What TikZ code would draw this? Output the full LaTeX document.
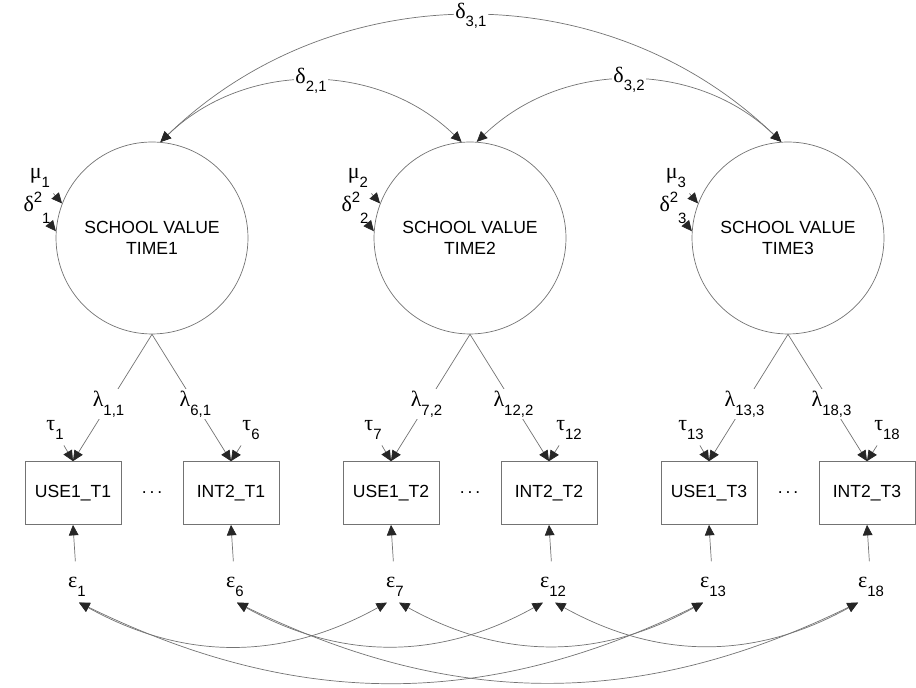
\documentclass[tikz,border=0pt]{standalone}
\usepackage{fontspec}
\setmainfont{Liberation Sans}
\newfontfamily\grk{Liberation Serif}
\usetikzlibrary{arrows.meta}
\newcommand{\grsub}[2]{{\grk\fontsize{12.5}{14}\selectfont #1}\raisebox{-0.9ex}{\fontsize{8.5}{10}\selectfont #2}}
\newcommand{\grvar}[1]{{\grk\fontsize{12.5}{14}\selectfont δ}\raisebox{0.9ex}{\fontsize{8.5}{10}\selectfont 2}\raisebox{-1.3ex}{\fontsize{8.5}{10}\selectfont #1}}

\begin{document}
\begin{tikzpicture}[x=0.02cm, y=-0.02cm,
	every node/.style={font=\fontsize{10}{12}\selectfont},
	>={Triangle[length=6pt, width=5.5pt, color=black!85]},
	conn/.style={draw=black!55, line width=0.4pt},
	latent/.style={circle, draw=black!55, line width=0.4pt, minimum size=3.84cm, inner sep=0pt, align=center},
	obs/.style={rectangle, draw=black!55, line width=0.4pt, minimum width=1.92cm, minimum height=1.26cm},
	lab/.style={fill=white, inner sep=1pt},
	load/.style={conn, ->},
	cov/.style={conn, <->}]
	\useasboundingbox (0,0) rectangle (916,688);
	\foreach \t/\cx/\a/\b in {1/152/1/6, 2/470/7/12, 3/788/13/18} {
		\node[latent] (c\t) at (\cx,238) {SCHOOL VALUE\\TIME\t};
		\node[obs] (u\t) at (\cx-79,493) {USE1\_T\t};
		\node[obs] (n\t) at (\cx+79,493) {INT2\_T\t};
		\node (dots\t) at (\cx,493) {.\,.\,.};
		\node (m\t) at (\cx-112,178) {\grsub{μ}{\t}};
		\node (v\t) at (\cx-115,208) {\grvar{\t}};
		\draw[load] (m\t) -- (c\t.159);
		\draw[load] (v\t) -- (c\t.176);
		\draw[load] (c\t.south) -- node[lab, pos=0.55] (l\a) {\grsub{λ}{\a,\t}} (u\t.north);
		\draw[load] (c\t.south) -- node[lab, pos=0.55] (l\b) {\grsub{λ}{\b,\t}} (n\t.north);
		\node (t\a) at (\cx-97,430) {\grsub{τ}{\a}};
		\node (t\b) at (\cx+99,430) {\grsub{τ}{\b}};
		\draw[load] (t\a) -- (u\t.north);
		\draw[load] (t\b) -- (n\t.north);
		\node (e\a) at (\cx-75,587) {\grsub{ε}{\a}};
		\node (e\b) at (\cx+83,587) {\grsub{ε}{\b}};
		\draw[load, shorten <=0.2cm] (e\a) -- (u\t.south);
		\draw[load, shorten <=0.2cm] (e\b) -- (n\t.south);
	}
	\draw[cov] (c1.85) to[bend left=44] node[lab] (d21) {\grsub{δ}{2,1}} (c2.95);
	\draw[cov] (c1.85) to[bend left=44] node[lab] (d31) {\grsub{δ}{3,1}} (c3.94);
	\draw[cov] (c2.86) to[bend left=44] node[lab] (d32) {\grsub{δ}{3,2}} (c3.94);
	\draw[cov] ([xshift=0.04cm]e1.south) to[bend right=29] ([xshift=-0.16cm]e7.south);
	\draw[cov] ([xshift=0.04cm]e1.south) to[bend right=26] ([xshift=-0.2cm]e13.south);
	\draw[cov] ([xshift=0.04cm]e6.south) to[bend right=29] ([xshift=-0.2cm]e12.south);
	\draw[cov] ([xshift=0.04cm]e6.south) to[bend right=26] ([xshift=-0.26cm]e18.south);
	\draw[cov] ([xshift=0.08cm]e7.south) to[bend right=29] ([xshift=-0.2cm]e13.south);
	\draw[cov] ([xshift=0.04cm]e12.south) to[bend right=29] ([xshift=-0.26cm]e18.south);
\end{tikzpicture}
\end{document}
